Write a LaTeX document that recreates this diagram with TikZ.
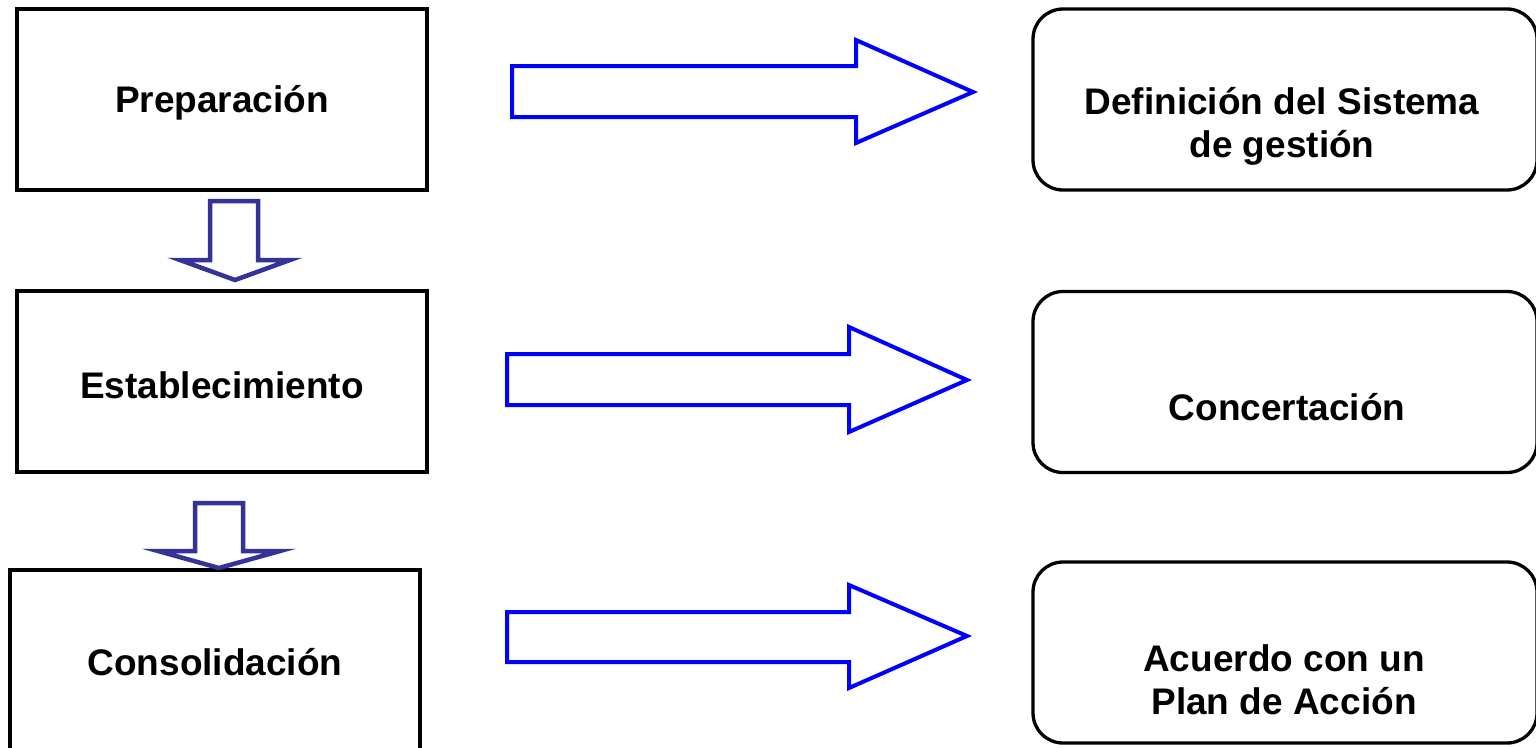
\documentclass[tikz,border=0pt]{standalone}
\usepackage{fontspec}
\setmainfont{Liberation Sans}
\definecolor{arrblue}{HTML}{0000FF}
\definecolor{arrnavy}{HTML}{333399}
\begin{document}
\begin{tikzpicture}[x=1pt,y=-1pt,
  lbl/.style={font=\fontsize{37}{43}\selectfont\bfseries, align=center, inner sep=0pt},
  stagebox/.style={draw=black, line width=3.3pt, minimum width=410pt, inner sep=0pt},
  resbox/.style={draw=black, line width=3.3pt, rounded corners=30pt, minimum width=504pt, minimum height=181pt, inner sep=0pt},
  bigarrow/.style={draw=arrblue, line width=4pt, fill=white, line join=miter},
  downarrow/.style={draw=arrnavy, line width=4.5pt, fill=white, line join=miter}]
\useasboundingbox (0,0) rectangle (1536,747);
% left stage boxes
\node[stagebox, minimum height=181pt] (prep) at (222,99.5) {};
\node[lbl] (tprep) at (222,103) {Preparación};
\node[stagebox, minimum height=181pt] (est) at (222,381.5) {};
\node[lbl] (test) at (222,385) {Establecimiento};
\node[stagebox, minimum height=192pt] (cons) at (215,666) {};
\node[lbl] (tcons) at (215,662) {Consolidación};
% right result boxes
\node[resbox] (defi) at (1285,99.5) {};
\node[lbl] (tdefi) at (1282,126) {Definición del Sistema\\de gestión};
\node[resbox] (conc) at (1285,382) {};
\node[lbl] (tconc) at (1287,407) {Concertación};
\node[resbox] (acue) at (1285,652.5) {};
\node[lbl] (tacue) at (1284,680) {Acuerdo con un\\ Plan de Acción};
% right block arrows
\draw[bigarrow] (512,66) -- (856,66) -- (856,40) -- (973,92) -- (856,143) -- (856,117) -- (512,117) -- cycle;
\draw[bigarrow] (507,354) -- (849,354) -- (849,327) -- (967,380) -- (849,432) -- (849,405) -- (507,405) -- cycle;
\draw[bigarrow] (507,612) -- (849,612) -- (849,585) -- (967,636) -- (849,688) -- (849,662) -- (507,662) -- cycle;
% down block arrows
\draw[downarrow] (210,201) -- (258,201) -- (258,260) -- (290,260) -- (235,280) -- (180,260) -- (210,260) -- cycle;
\draw[downarrow] (195,503) -- (243,503) -- (243,551) -- (280,551) -- (219,568) -- (158,551) -- (195,551) -- cycle;
\end{tikzpicture}
\end{document}
